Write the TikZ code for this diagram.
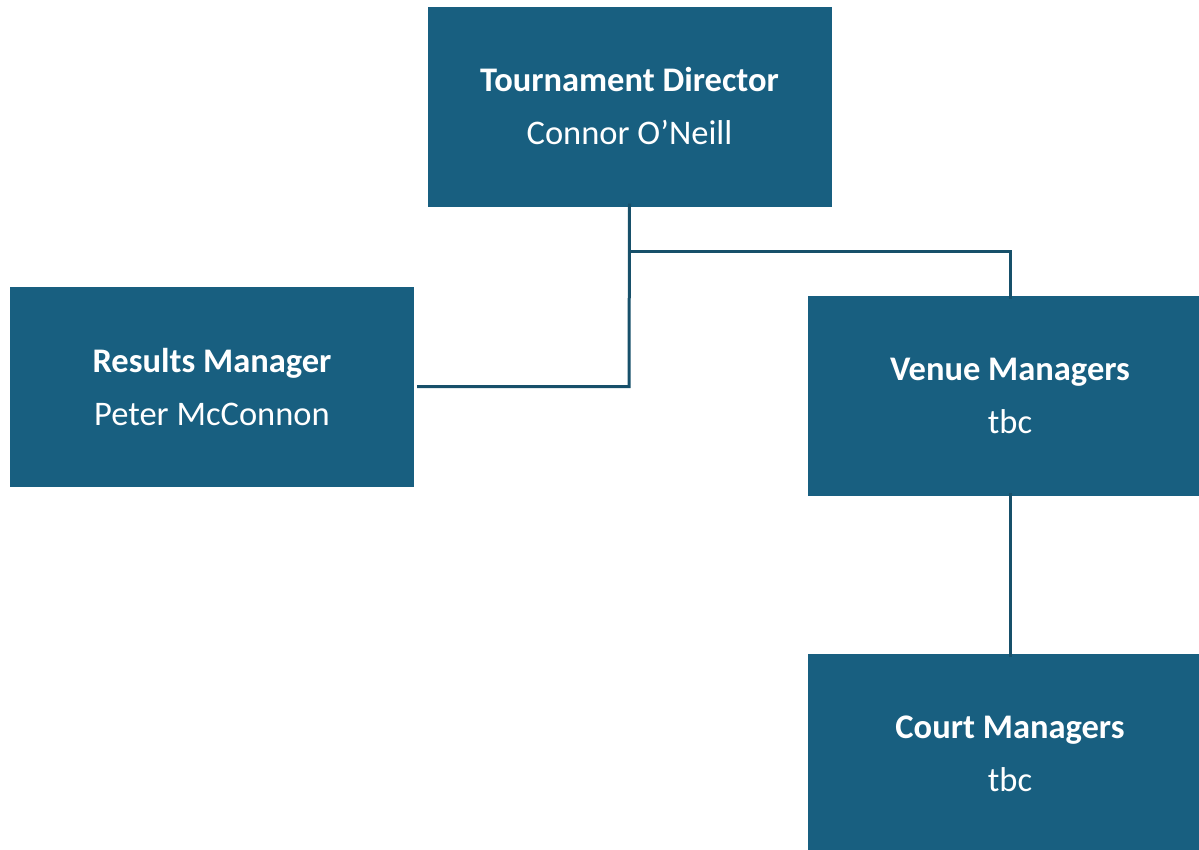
\documentclass[tikz,border=0pt]{standalone}
\usepackage{fontspec}
\setmainfont{Carlito}
\definecolor{boxfill}{HTML}{185F80}
\definecolor{linecol}{HTML}{17506A}
\begin{document}
\begin{tikzpicture}[x=1pt,y=-1pt,
  orgbox/.style={fill=boxfill,draw=none,text=white,align=center,inner sep=0pt,
    minimum width=404pt,minimum height=200pt,
    font=\fontsize{34.5}{53}\selectfont},
  conn/.style={draw=linecol,line width=3pt}]
\useasboundingbox (0,0) rectangle (1199,849);
\begin{scope}
\clip (0,0) rectangle (1199,849);
\node[orgbox] (td) at (629.5,106.5) {\textbf{Tournament Director}\\Connor O’Neill};
\node[orgbox] (rm) at (212,387) {\textbf{Results Manager}\\Peter McConnon};
\node[orgbox] (vm) at (1010,396) {\textbf{Venue Managers}\\tbc};
\node[orgbox] (cm) at (1010,754) {\textbf{Court Managers}\\tbc};
\end{scope}
\coordinate (j1) at (629,251.5);
\coordinate (j2) at (629,386.5);
\draw[conn] ([yshift=3pt]td.south) -- (j2) -- ([xshift=3pt]rm.east |- j2);
\draw[conn] (j1) -| ([yshift=-3pt]vm.north);
\draw[conn] ([yshift=3pt]vm.south) -- ([yshift=-3pt]cm.north);
\end{tikzpicture}
\end{document}
